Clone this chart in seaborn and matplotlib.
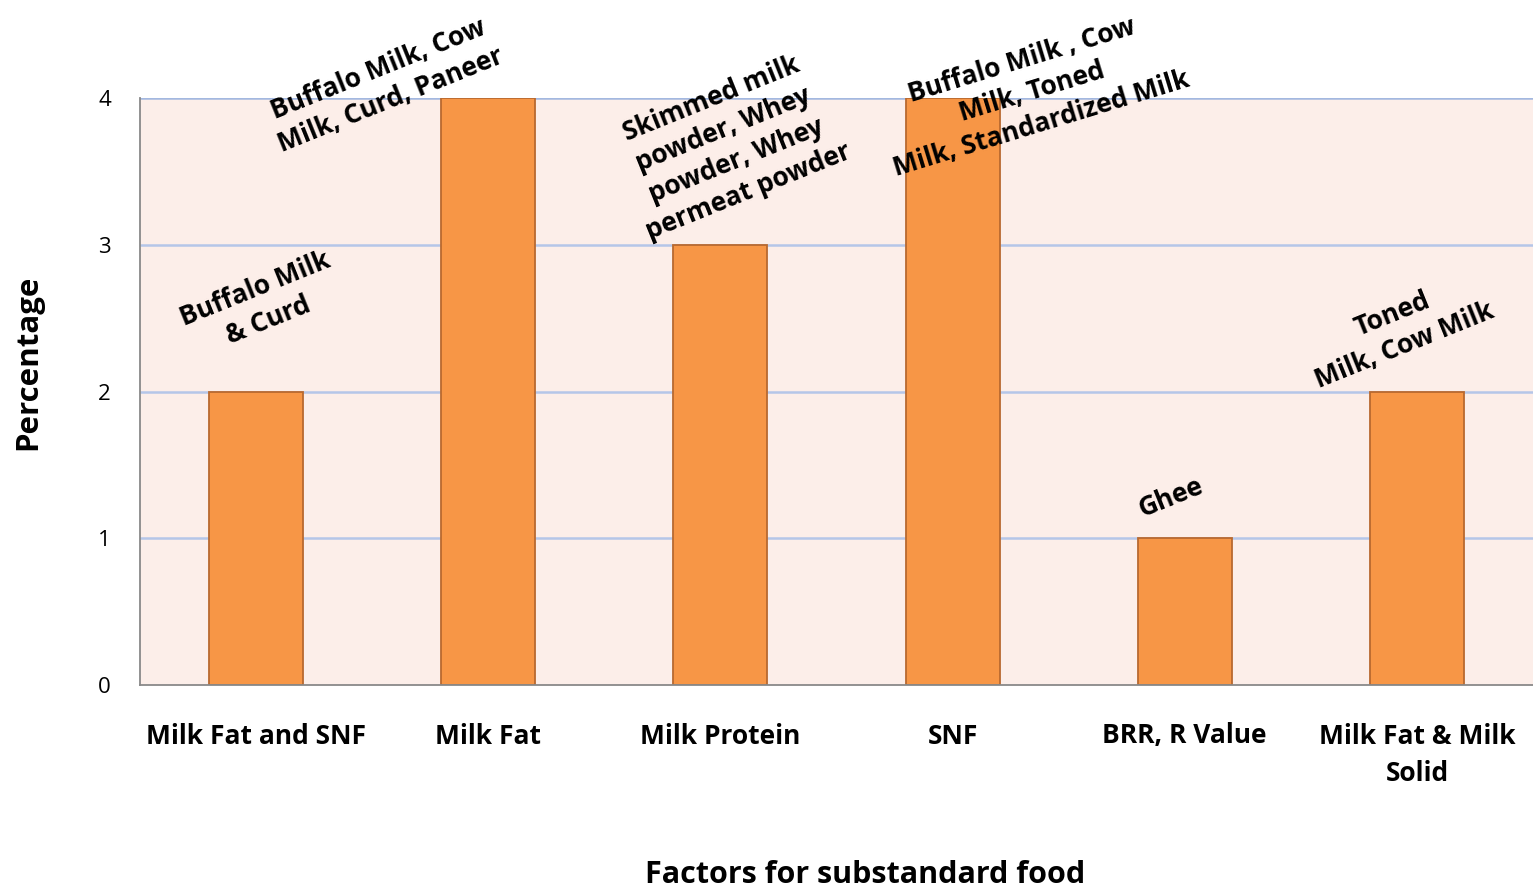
import matplotlib
matplotlib.use("Agg")
import matplotlib.pyplot as plt
import seaborn as sns
import pandas as pd

categories = ["Milk Fat and SNF", "Milk Fat", "Milk Protein", "SNF", "BRR, R Value", "Milk Fat & Milk\nSolid"]
values = [2, 4, 3, 4, 1, 2]
annotations = [
    "Buffalo Milk\n& Curd",
    "Buffalo Milk, Cow\nMilk, Curd, Paneer",
    "Skimmed milk\npowder, Whey\npowder, Whey\npermeat powder",
    "Buffalo Milk , Cow\nMilk, Toned\nMilk, Standardized Milk",
    "Ghee",
    "Toned\nMilk, Cow Milk",
]
ann_pos = [(0.025, 2.59), (0.555, 4.09), (2.04, 3.68), (3.34, 4.04), (3.94, 1.28), (4.92, 2.42)]
ann_rot = [22, 22, 22, 17, 22, 22]
yticks = [0, 1, 2, 3, 4]

sns.set_theme(style="white")
plt.rcParams['font.family'] = ['Open Sans', 'DejaVu Sans']
plt.rcParams['text.color'] = 'black'
plt.rcParams['xtick.labelcolor'] = 'black'
plt.rcParams['ytick.labelcolor'] = 'black'

df = pd.DataFrame({"Factor": categories, "Percentage": values})

fig = plt.figure(figsize=(15.33, 8.92), dpi=100)
ax = fig.add_axes([140/1533, 1-685/892, 1-140/1533, (685-98)/892])
ax.set_facecolor("#FCEEE9")

sns.barplot(data=df, x="Factor", y="Percentage", color="#F79646", width=0.405,
            edgecolor="#B8692F", linewidth=1.3, saturation=1, ax=ax, zorder=3)

ax.set_ylim(0, 4)
ax.set_xlim(-0.5, len(categories) - 0.5)
ax.set_yticks(yticks)
ax.set_yticklabels([str(t) for t in yticks], fontsize=16, color="black")
for t in yticks[1:]:
    ax.axhline(t, color="#B5C6E8" if t < 4 else "#A3B8E0", lw=1.8, zorder=1)

ax.set_xticks(range(len(categories)))
ax.set_xticklabels(categories, fontsize=19, fontweight="bold", linespacing=1.5, color="black")
ax.tick_params(axis="x", which="major", length=0, pad=27)
ax.set_xticks([i + 0.5 for i in range(len(categories) - 1)] + [-0.5], minor=True)
ax.tick_params(axis="x", which="minor", length=8, color="#898989", width=1.3, direction="out")
ax.tick_params(axis="y", length=7, color="#898989", width=1.3, direction="out", pad=14)

for s in ["top", "right"]:
    ax.spines[s].set_visible(False)
for s in ["left", "bottom"]:
    ax.spines[s].set_color("#898989")
    ax.spines[s].set_linewidth(1.3)
    ax.spines[s].set_zorder(4)

for txt, (x, y), r in zip(annotations, ann_pos, ann_rot):
    ax.text(x, y, txt, rotation=r, rotation_mode="anchor", ha="center", va="center",
            multialignment="center", fontsize=19, fontweight="bold", color="black",
            linespacing=1.3, zorder=5, clip_on=False)

ax.set_xlabel("")
ax.set_ylabel("")
fig.text(28/1533, 1-362/892, "Percentage", rotation=90, ha="center", va="center",
         fontsize=22.5, fontweight="bold", color="black")
fig.text(865/1533, 1-875/892, "Factors for substandard food", ha="center", va="center",
         fontsize=22, fontweight="bold", color="black")

fig.savefig("out.png", dpi=100)
